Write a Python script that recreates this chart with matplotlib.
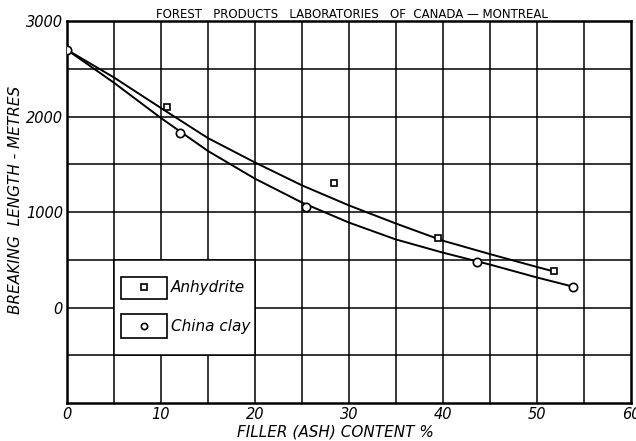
import matplotlib
matplotlib.use("Agg")
import matplotlib.pyplot as plt
from matplotlib.patches import Rectangle

# ---- data ----
anh_x = [10.6, 28.4, 39.5, 51.8]
anh_y = [2100, 1300, 730, 380]
clay_x = [0, 12.0, 25.4, 43.6, 53.8]
clay_y = [2700, 1825, 1050, 472, 220]

# drawn (smoothed) curves, read every 5 %
anh_cx = [0, 5, 10, 15, 20, 25, 30, 35, 40, 45, 50, 51.8]
anh_cy = [2700, 2410, 2090, 1775, 1520, 1280, 1070, 880, 700, 560, 425, 378]
clay_cx = [0, 5, 10, 15, 20, 25, 30, 35, 40, 45, 50, 53.8]
clay_cy = [2700, 2355, 1985, 1640, 1350, 1100, 890, 713, 575, 450, 315, 220]

xticks = [0, 10, 20, 30, 40, 50, 60]
yticks = [0, 1000, 2000, 3000]

fig = plt.figure(figsize=(6.36, 4.41), dpi=100)
ax = fig.add_axes([0.1053, 0.0862, 0.8867, 0.8658])
ax.set_xlim(0, 60)
ax.set_ylim(-1000, 3000)

# grid every 5 % and every 500 m
for gx in range(5, 60, 5):
    ax.axvline(gx, color="black", lw=1.1, zorder=1)
for gy in range(-500, 3000, 500):
    ax.axhline(gy, color="black", lw=1.1, zorder=1)

ax.plot(anh_cx, anh_cy, color="black", lw=1.4, zorder=3)
ax.plot(clay_cx, clay_cy, color="black", lw=1.4, zorder=3)
ax.plot(anh_x, anh_y, ls="none", marker="s", ms=5, mfc="white", mec="black", mew=1.2, zorder=4)
ax.plot(clay_x, clay_y, ls="none", marker="o", ms=6, mfc="white", mec="black", mew=1.2, zorder=4)

# legend panel blanking the grid
ax.add_patch(Rectangle((5, -500), 15, 1000, facecolor="white", edgecolor="black", lw=1.1, zorder=2))
ax.add_patch(Rectangle((5.7, 94), 4.9, 231, facecolor="white", edgecolor="black", lw=1.2, zorder=5))
ax.add_patch(Rectangle((5.7, -315), 4.9, 242, facecolor="white", edgecolor="black", lw=1.2, zorder=5))
ax.plot([8.15], [210], marker="s", ms=4, mfc="white", mec="black", mew=1.2, zorder=6)
ax.plot([8.15], [-195], marker="o", ms=4.5, mfc="white", mec="black", mew=1.2, zorder=6)
ax.text(11.1, 210, "Anhydrite", style="italic", fontsize=11, va="center", zorder=6)
ax.text(11.1, -195, "China clay", style="italic", fontsize=11, va="center", zorder=6)

for s in ax.spines.values():
    s.set_linewidth(1.8)
ax.tick_params(length=0, pad=3)
ax.set_xticks(xticks)
ax.set_yticks(yticks)
ax.set_xticklabels([str(v) for v in xticks], style="italic", fontsize=10.5)
ax.set_yticklabels([str(v) for v in yticks], style="italic", fontsize=10.5)

fig.text(0.553, 0.966, "FOREST   PRODUCTS   LABORATORIES   OF  CANADA — MONTREAL",
         ha="center", va="center", fontsize=8.5)
fig.text(0.025, 0.546, "BREAKING  LENGTH - METRES", rotation=90, style="italic",
         ha="center", va="center", fontsize=11)
fig.text(0.527, 0.02, "FILLER (ASH) CONTENT %", style="italic",
         ha="center", va="center", fontsize=11)

fig.savefig("out.png", dpi=100)
